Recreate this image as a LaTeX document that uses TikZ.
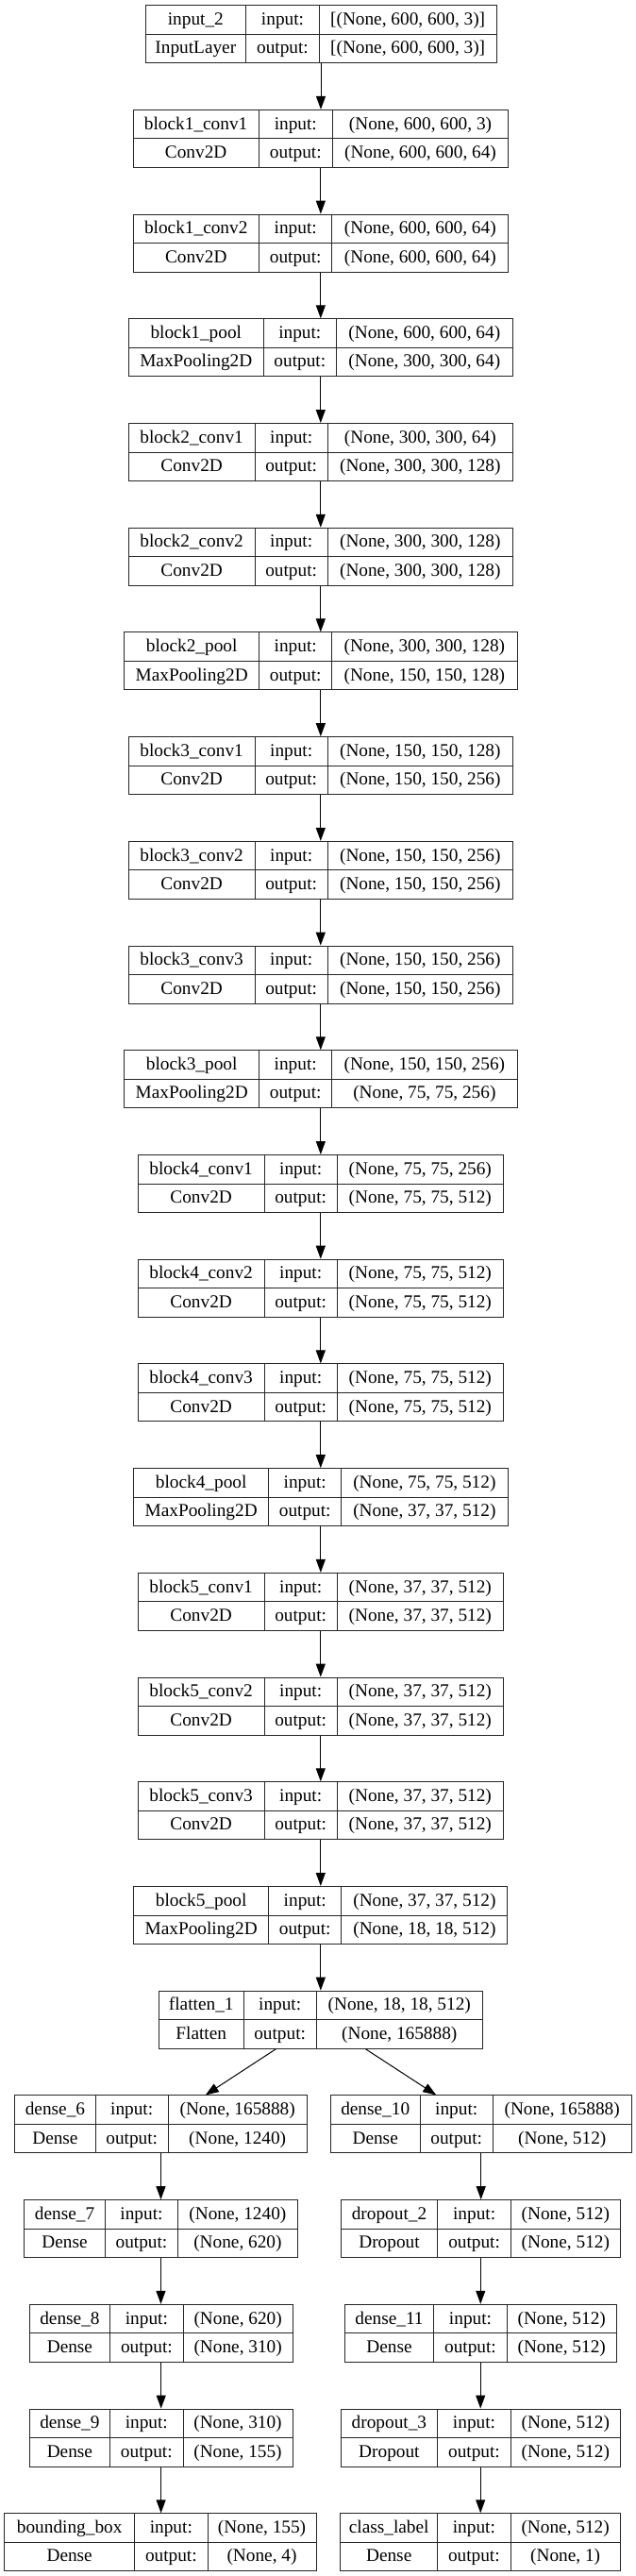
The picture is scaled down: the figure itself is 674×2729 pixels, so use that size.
\documentclass[tikz,border=0pt]{standalone}
\usepackage{fontspec}
\setmainfont{Liberation Serif}
\usetikzlibrary{arrows.meta}
\tikzset{
  lbox/.style={draw=black!85, line width=1pt, rectangle, inner sep=0pt},
  lline/.style={draw=black!85, line width=1pt},
  ltxt/.style={inner sep=0pt, text height=14pt, text depth=3.2pt, font=\fontsize{19.3}{22}\selectfont, text=black},
  arr/.style={draw=black, line width=1pt, -{Triangle[length=14pt,width=10pt]}}
}
\newcommand\klayer[9]{%
  \def\kid{#1}%
  \pgfmathsetmacro\kt{5.7+110.71*#2}%
  \pgfmathsetmacro\kb{\kt+61}%
  \pgfmathsetmacro\km{\kt+30.5}%
  \def\kxa{#3}\def\kxb{#4}\def\kxc{#5}\def\kxd{#6}%
  \def\kname{#7}\def\ktype{#8}\def\kin{#9}%
  \klayerB}
\newcommand\klayerB[1]{%
  \pgfmathsetmacro\kw{\kxd-\kxa}%
  \node[lbox, minimum width=\kw pt, minimum height=61pt] (\kid) at ({(\kxa+\kxd)/2},{\kt+30.5}) {};
  \draw[lline] (\kxb,\kt) -- (\kxb,\kb);
  \draw[lline] (\kxc,\kt) -- (\kxc,\kb);
  \draw[lline] (\kxa,\km) -- (\kxd,\km);
  \node[ltxt] (\kid-n) at ({(\kxa+\kxb)/2},{\kt+15.25}) {\kname};
  \node[ltxt] (\kid-t) at ({(\kxa+\kxb)/2},{\km+15.25}) {\ktype};
  \node[ltxt] (\kid-il) at ({(\kxb+\kxc)/2},{\kt+15.25}) {input:};
  \node[ltxt] (\kid-ol) at ({(\kxb+\kxc)/2},{\km+15.25}) {output:};
  \node[ltxt] (\kid-iv) at ({(\kxc+\kxd)/2},{\kt+15.25}) {\kin};
  \node[ltxt] (\kid-ov) at ({(\kxc+\kxd)/2},{\km+15.25}) {#1};
}
\begin{document}
\begin{tikzpicture}[x=1pt,y=-1pt]
\useasboundingbox[fill=white] (0,0) rectangle (674,2729);
\klayer{l0}{0}{154}{260.7}{338.3}{526}{input\_2}{InputLayer}{[(None, 600, 600, 3)]}{[(None, 600, 600, 3)]}
\klayer{l1}{1}{141}{274.3}{352.3}{538.7}{block1\_conv1}{Conv2D}{(None, 600, 600, 3)}{(None, 600, 600, 64)}
\klayer{l2}{2}{141}{274.5}{351.9}{538.7}{block1\_conv2}{Conv2D}{(None, 600, 600, 64)}{(None, 600, 600, 64)}
\klayer{l3}{3}{136.3}{279.3}{356.3}{543.3}{block1\_pool}{MaxPooling2D}{(None, 600, 600, 64)}{(None, 300, 300, 64)}
\klayer{l4}{4}{136.3}{270}{347.3}{543.3}{block2\_conv1}{Conv2D}{(None, 300, 300, 64)}{(None, 300, 300, 128)}
\klayer{l5}{5}{136.3}{270}{347.3}{543.3}{block2\_conv2}{Conv2D}{(None, 300, 300, 128)}{(None, 300, 300, 128)}
\klayer{l6}{6}{131.7}{274.7}{351.7}{548}{block2\_pool}{MaxPooling2D}{(None, 300, 300, 128)}{(None, 150, 150, 128)}
\klayer{l7}{7}{136.3}{270}{347.3}{543.3}{block3\_conv1}{Conv2D}{(None, 150, 150, 128)}{(None, 150, 150, 256)}
\klayer{l8}{8}{136.3}{270}{347.3}{543.3}{block3\_conv2}{Conv2D}{(None, 150, 150, 256)}{(None, 150, 150, 256)}
\klayer{l9}{9}{136.3}{270}{347.3}{543.3}{block3\_conv3}{Conv2D}{(None, 150, 150, 256)}{(None, 150, 150, 256)}
\klayer{l10}{10}{131.7}{274.7}{351.7}{548}{block3\_pool}{MaxPooling2D}{(None, 150, 150, 256)}{(None, 75, 75, 256)}
\klayer{l11}{11}{146.3}{280}{357.3}{533.3}{block4\_conv1}{Conv2D}{(None, 75, 75, 256)}{(None, 75, 75, 512)}
\klayer{l12}{12}{146.3}{280}{357.3}{533.3}{block4\_conv2}{Conv2D}{(None, 75, 75, 512)}{(None, 75, 75, 512)}
\klayer{l13}{13}{146.3}{280}{357.3}{533.3}{block4\_conv3}{Conv2D}{(None, 75, 75, 512)}{(None, 75, 75, 512)}
\klayer{l14}{14}{141.7}{284.7}{361.7}{538}{block4\_pool}{MaxPooling2D}{(None, 75, 75, 512)}{(None, 37, 37, 512)}
\klayer{l15}{15}{146.3}{280}{357.3}{533.3}{block5\_conv1}{Conv2D}{(None, 37, 37, 512)}{(None, 37, 37, 512)}
\klayer{l16}{16}{146.3}{280}{357.3}{533.3}{block5\_conv2}{Conv2D}{(None, 37, 37, 512)}{(None, 37, 37, 512)}
\klayer{l17}{17}{146.3}{280}{357.3}{533.3}{block5\_conv3}{Conv2D}{(None, 37, 37, 512)}{(None, 37, 37, 512)}
\klayer{l18}{18}{141.8}{284.6}{361.9}{537.9}{block5\_pool}{MaxPooling2D}{(None, 37, 37, 512)}{(None, 18, 18, 512)}
\klayer{l19}{19}{168.5}{258}{335.3}{511.2}{flatten\_1}{Flatten}{(None, 18, 18, 512)}{(None, 165888)}
\klayer{a20}{20}{15.9}{101}{178.4}{325}{dense\_6}{Dense}{(None, 165888)}{(None, 1240)}
\klayer{b20}{20}{350.4}{445}{522.4}{669}{dense\_10}{Dense}{(None, 165888)}{(None, 512)}
\klayer{a21}{21}{25.8}{111.3}{188.7}{315.1}{dense\_7}{Dense}{(None, 1240)}{(None, 620)}
\klayer{b21}{21}{361.1}{463.9}{541.3}{657.4}{dropout\_2}{Dropout}{(None, 512)}{(None, 512)}
\klayer{a22}{22}{31.4}{116.5}{194.3}{310}{dense\_8}{Dense}{(None, 620)}{(None, 310)}
\klayer{b22}{22}{365.4}{459.6}{537.4}{653}{dense\_11}{Dense}{(None, 512)}{(None, 512)}
\klayer{a23}{23}{31.2}{116.6}{194}{310}{dense\_9}{Dense}{(None, 310)}{(None, 155)}
\klayer{b23}{23}{361}{463.8}{541.2}{657.4}{dropout\_3}{Dropout}{(None, 512)}{(None, 512)}
\klayer{a24}{24}{4.7}{142.7}{220}{335}{bounding\_box}{Dense}{(None, 155)}{(None, 4)}
\klayer{b24}{24}{360.7}{463.7}{541}{657.3}{class\_label}{Dense}{(None, 512)}{(None, 1)}
% connectors
\foreach \i [evaluate=\i as \j using int(\i+1)] in {0,...,18}{
  \draw[arr] (l\i.south) -- (l\i.south |- l\j.north);
}
\draw[arr] (l19) -- (a20);
\draw[arr] (l19) -- (b20);
\foreach \i [evaluate=\i as \j using int(\i+1)] in {20,...,23}{
  \draw[arr] (a\i.south) -- (a\i.south |- a\j.north);
  \draw[arr] (b\i.south) -- (b\i.south |- b\j.north);
}
\end{tikzpicture}
\end{document}
